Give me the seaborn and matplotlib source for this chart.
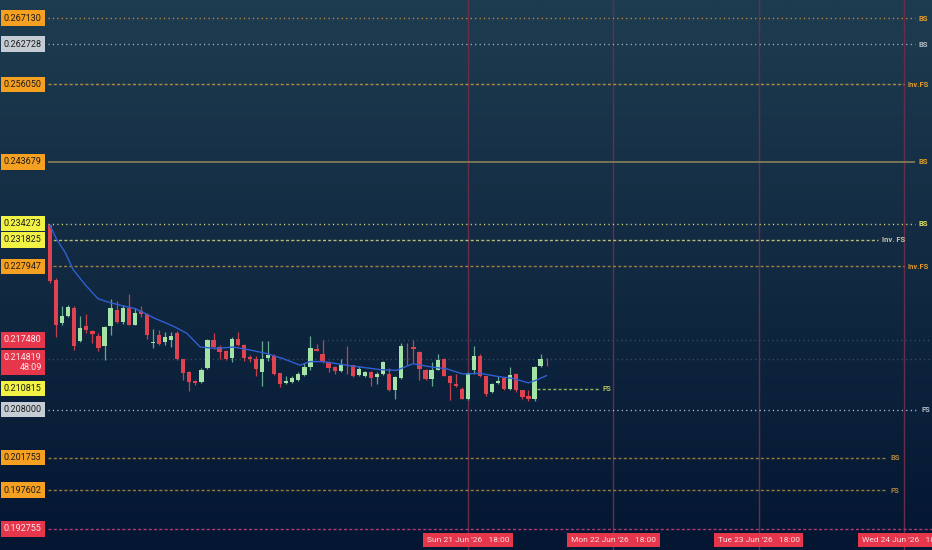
import numpy as np
import pandas as pd
import seaborn as sns
import matplotlib.pyplot as plt
import matplotlib.transforms as mtransforms

# hourly candles, first bar is Thu 18 Jun 2026 21:00
start_time = pd.Timestamp('2026-06-18 21:00')

opens = [0.2340, 0.2260, 0.2199, 0.2208, 0.2220, 0.2174, 0.2194, 0.2187, 0.2181, 0.2166,
         0.2194, 0.2217, 0.2200, 0.2220, 0.2196, 0.2215, 0.2211, 0.2170, 0.2182, 0.2172,
         0.2175, 0.2185, 0.2148, 0.2131, 0.2118, 0.2117, 0.2136, 0.2175, 0.2165, 0.2159,
         0.2150, 0.2176, 0.2168, 0.2151, 0.2149, 0.2131, 0.2150, 0.2153, 0.2129, 0.2116,
         0.2117, 0.2120, 0.2127, 0.2137, 0.2162, 0.2156, 0.2145, 0.2138, 0.2132, 0.2141,
         0.2140, 0.2127, 0.2125, 0.2131, 0.2124, 0.2128, 0.2128, 0.2107, 0.2123, 0.2167,
         0.2165, 0.2158, 0.2134, 0.2121, 0.2134, 0.2148, 0.2126, 0.2114, 0.2108, 0.2095,
         0.2134, 0.2153, 0.2125, 0.2104, 0.2116, 0.2122, 0.2108, 0.2128, 0.2106, 0.2099,
         0.2095, 0.2139, 0.2149]
highs = [0.2342, 0.2262, 0.2223, 0.2224, 0.2222, 0.2208, 0.2211, 0.2189, 0.2185, 0.2194,
         0.2232, 0.2229, 0.2224, 0.2240, 0.2220, 0.2223, 0.2213, 0.2190, 0.2189, 0.2186,
         0.2186, 0.2187, 0.2149, 0.2132, 0.2120, 0.2136, 0.2176, 0.2184, 0.2168, 0.2161,
         0.2179, 0.2186, 0.2169, 0.2154, 0.2152, 0.2173, 0.2173, 0.2155, 0.2130, 0.2126,
         0.2125, 0.2131, 0.2143, 0.2180, 0.2169, 0.2175, 0.2146, 0.2139, 0.2148, 0.2166,
         0.2141, 0.2139, 0.2132, 0.2132, 0.2131, 0.2146, 0.2136, 0.2125, 0.2171, 0.2170,
         0.2175, 0.2159, 0.2135, 0.2144, 0.2156, 0.2150, 0.2127, 0.2128, 0.2110, 0.2131,
         0.2166, 0.2155, 0.2126, 0.2116, 0.2125, 0.2123, 0.2138, 0.2130, 0.2107, 0.2106,
         0.2139, 0.2156, 0.2150]
lows = [0.2256, 0.2179, 0.2196, 0.2207, 0.2161, 0.2172, 0.2185, 0.2170, 0.2160, 0.2147,
        0.2182, 0.2199, 0.2197, 0.2195, 0.2196, 0.2207, 0.2176, 0.2163, 0.2168, 0.2168,
        0.2165, 0.2147, 0.2120, 0.2105, 0.2113, 0.2116, 0.2135, 0.2162, 0.2148, 0.2147,
        0.2144, 0.2167, 0.2146, 0.2145, 0.2126, 0.2112, 0.2146, 0.2127, 0.2110, 0.2115,
        0.2116, 0.2119, 0.2126, 0.2133, 0.2159, 0.2143, 0.2131, 0.2128, 0.2131, 0.2128,
        0.2124, 0.2126, 0.2124, 0.2112, 0.2114, 0.2127, 0.2105, 0.2094, 0.2121, 0.2140,
        0.2143, 0.2120, 0.2120, 0.2112, 0.2133, 0.2125, 0.2093, 0.2111, 0.2094, 0.2093,
        0.2128, 0.2124, 0.2098, 0.2103, 0.2115, 0.2107, 0.2107, 0.2104, 0.2094, 0.2092,
        0.2092, 0.2138, 0.2139]
closes = [0.2258, 0.2196, 0.2208, 0.2221, 0.2166, 0.2192, 0.2189, 0.2183, 0.2163, 0.2193,
          0.2220, 0.2200, 0.2220, 0.2196, 0.2212, 0.2211, 0.2182, 0.2172, 0.2169, 0.2179,
          0.2180, 0.2148, 0.2129, 0.2117, 0.2116, 0.2133, 0.2175, 0.2165, 0.2158, 0.2148,
          0.2176, 0.2168, 0.2150, 0.2148, 0.2135, 0.2149, 0.2154, 0.2128, 0.2114, 0.2118,
          0.2122, 0.2128, 0.2138, 0.2164, 0.2160, 0.2144, 0.2136, 0.2132, 0.2141, 0.2140,
          0.2126, 0.2135, 0.2131, 0.2123, 0.2128, 0.2144, 0.2106, 0.2124, 0.2166, 0.2166,
          0.2162, 0.2135, 0.2121, 0.2133, 0.2147, 0.2126, 0.2116, 0.2112, 0.2095, 0.2130,
          0.2153, 0.2126, 0.2101, 0.2115, 0.2118, 0.2108, 0.2127, 0.2106, 0.2097, 0.2095,
          0.2138, 0.2148, 0.214819]

# blue moving average, read at some bars
ma_bars = [0, 1.1, 2.5, 3.8, 5.8, 7.9, 9.6, 11.9, 14.0, 15.7, 17.3, 19.0, 20.6, 22.6,
           24.8, 27.5, 30.2, 33.0, 35.8, 38.5, 41.3, 42.9, 45.1, 49.0, 54.5, 57.2, 59.9,
           62.7, 65.5, 68.2, 71.0, 73.7, 76.4, 79.0, 80.4, 82.0]
ma_values = [0.2340, 0.2319, 0.2300, 0.2275, 0.2253, 0.2233, 0.2228, 0.2223, 0.2219,
             0.2212, 0.2205, 0.2199, 0.2193, 0.2184, 0.2165, 0.2163, 0.2165, 0.2161,
             0.2156, 0.2149, 0.2140, 0.2145, 0.2145, 0.2140, 0.2134, 0.2133, 0.2142,
             0.2138, 0.2135, 0.2128, 0.2129, 0.2125, 0.2122, 0.2116, 0.2120, 0.2126]

# horizontal price levels and their tags
level_prices = [0.267130, 0.262728, 0.256050, 0.243679, 0.234273, 0.231825, 0.227947,
                0.217480, 0.214819, 0.210815, 0.208000, 0.201753, 0.197602, 0.192755]
level_tags = ['BS', 'BS', 'Inv.FS', 'BS', 'BS', 'Inv. FS', 'Inv.FS',
              '', '', 'FS', 'FS', 'BS', 'FS', '']
countdown = '48:09'

# day separators
day_marks = pd.to_datetime(['2026-06-21 18:00', '2026-06-22 18:00',
                            '2026-06-23 18:00', '2026-06-24 18:00'])

ORANGE = '#f5a020'
GREY = '#c6ccd3'
YELLOW = '#f2f245'
RED = '#e5364b'
# per level: box colour, text colour, line colour, line style, x from, x to, tag colour
level_style = [
    (ORANGE, '#1b1b1b', '#c99a3c', 'dot', -0.3, 142.8, '#e39d2c'),
    (GREY, '#1b1b1b', '#aeb6c0', 'dot', -0.3, 142.8, '#b4bcc6'),
    (ORANGE, '#1b1b1b', '#b08a42', 'dash', -0.3, 141.0, '#e09c2e'),
    (ORANGE, '#1b1b1b', '#7e7b55', 'solid', -0.3, 142.8, '#e39d2c'),
    (YELLOW, '#1b1b1b', '#e2e27a', 'dot', -0.3, 142.8, '#e0e060'),
    (YELLOW, '#1b1b1b', '#b9b97a', 'dash', -0.3, 136.7, '#c4c49c'),
    (ORANGE, '#1b1b1b', '#a47c42', 'dash', 0.5, 141.0, '#e0982e'),
    (RED, '#ffe6ea', '#3f4f68', 'dot', 45.0, 145.7, None),
    (RED, '#ffe6ea', '#3f4f68', 'dot', -0.3, 145.7, None),
    (YELLOW, '#1b1b1b', '#92ad5c', 'dash', 80.4, 90.6, '#b3bf5e'),
    (GREY, '#1b1b1b', '#c3cad3', 'dot', -0.3, 143.3, '#b4bcc6'),
    (ORANGE, '#1b1b1b', '#94793e', 'dash', -0.3, 138.1, '#a9833f'),
    (ORANGE, '#1b1b1b', '#94793e', 'dash', -0.3, 138.1, '#a9833f'),
    (RED, '#ffe6ea', '#b03a78', 'dash', -0.3, 145.7, None),
]
line_styles = {'dot': (0, (0.8, 2.4)), 'dash': (0, (2.2, 1.6)), 'solid': '-'}

sns.set_style('dark')
plt.rcParams['font.family'] = ['Roboto', 'DejaVu Sans']

fig = plt.figure(figsize=(9.32, 5.5), dpi=100)

# background gradient
bg = fig.add_axes([0, 0, 1, 1])
grad = np.linspace(0, 1, 256)[:, None, None]
top = np.array([30, 60, 80]) / 255
bottom = np.array([4, 22, 50]) / 255
bg.imshow(top + (bottom - top) * grad, aspect='auto', extent=[0, 1, 0, 1])
bg.axis('off')

ax = fig.add_axes([0, 0, 1, 1])
ax.patch.set_alpha(0)
ax.set_yscale('log')
ax.set_xlim(-8.255, 145.62)
ax.set_ylim(0.19018, 0.27022)
ax.axis('off')

n = len(closes)
bars = pd.DataFrame({'bar': np.arange(n), 'open': opens, 'high': highs,
                     'low': lows, 'close': closes})
bars['up'] = bars['close'] >= bars['open']

# day separators
day_x = (day_marks - start_time) / pd.Timedelta(hours=1)
for x in day_x:
    ax.axvline(x, color='#6a2c48', lw=1, zorder=1)

# levels
for p, tag, st in zip(level_prices, level_tags, level_style):
    box_c, txt_c, line_c, ls, x0, x1, tag_c = st
    ax.hlines(p, x0, x1, colors=line_c, linestyles=line_styles[ls],
              lw=1.3 if ls == 'solid' else 1.0, zorder=2)
    if tag:
        ax.text(x1 + 0.6, p, tag, color=tag_c, fontsize=5.5, fontweight='bold',
                va='center', ha='left', zorder=3)

# candles
body_lo = bars[['open', 'close']].min(axis=1)
body_h = (bars['close'] - bars['open']).abs().clip(lower=0.00005)
body_c = np.where(bars['up'], '#a3e3a6', '#df4350')
wick_c = np.where(bars['up'], '#68a892', '#c4404d')
ax.vlines(bars['bar'], bars['low'], bars['high'], colors=wick_c, lw=0.9, zorder=4)
ax.bar(bars['bar'], body_h, bottom=body_lo, width=0.7, color=body_c, lw=0, zorder=5)

# moving average
sns.lineplot(x=ma_bars, y=ma_values, ax=ax, color='#2f5fd2', lw=1.0, zorder=6)

# price labels on the left
for p, st in zip(level_prices, level_style):
    box_c, txt_c = st[0], st[1]
    label = f'{p:.6f}'
    if p == closes[-1]:
        label = label + '\n' + countdown
        trans = mtransforms.offset_copy(ax.transData, fig=fig, y=4.5, units='points')
        ax.text(-7.6, p, label, transform=trans, color=txt_c, fontsize=6.5,
                va='top', ha='left', multialignment='right', linespacing=1.15, zorder=8,
                bbox=dict(boxstyle='square,pad=0.35', fc=box_c, ec='none'))
    else:
        ax.text(-7.6, p, label, color=txt_c, fontsize=6.5, va='center', ha='left',
                zorder=8, bbox=dict(boxstyle='square,pad=0.35', fc=box_c, ec='none'))

# date labels at the bottom (the last one runs off the right edge, as in the source)
for x, t in zip(day_x, day_marks):
    ax.text(x, 0.018, t.strftime("%a %d %b '%y   %H:%M"), transform=ax.get_xaxis_transform(),
            color='#ffe2e6', fontsize=6.0, ha='center', va='center', zorder=8,
            bbox=dict(boxstyle='square,pad=0.45', fc=RED, ec='none'))

fig.savefig('out.png', dpi=100)
